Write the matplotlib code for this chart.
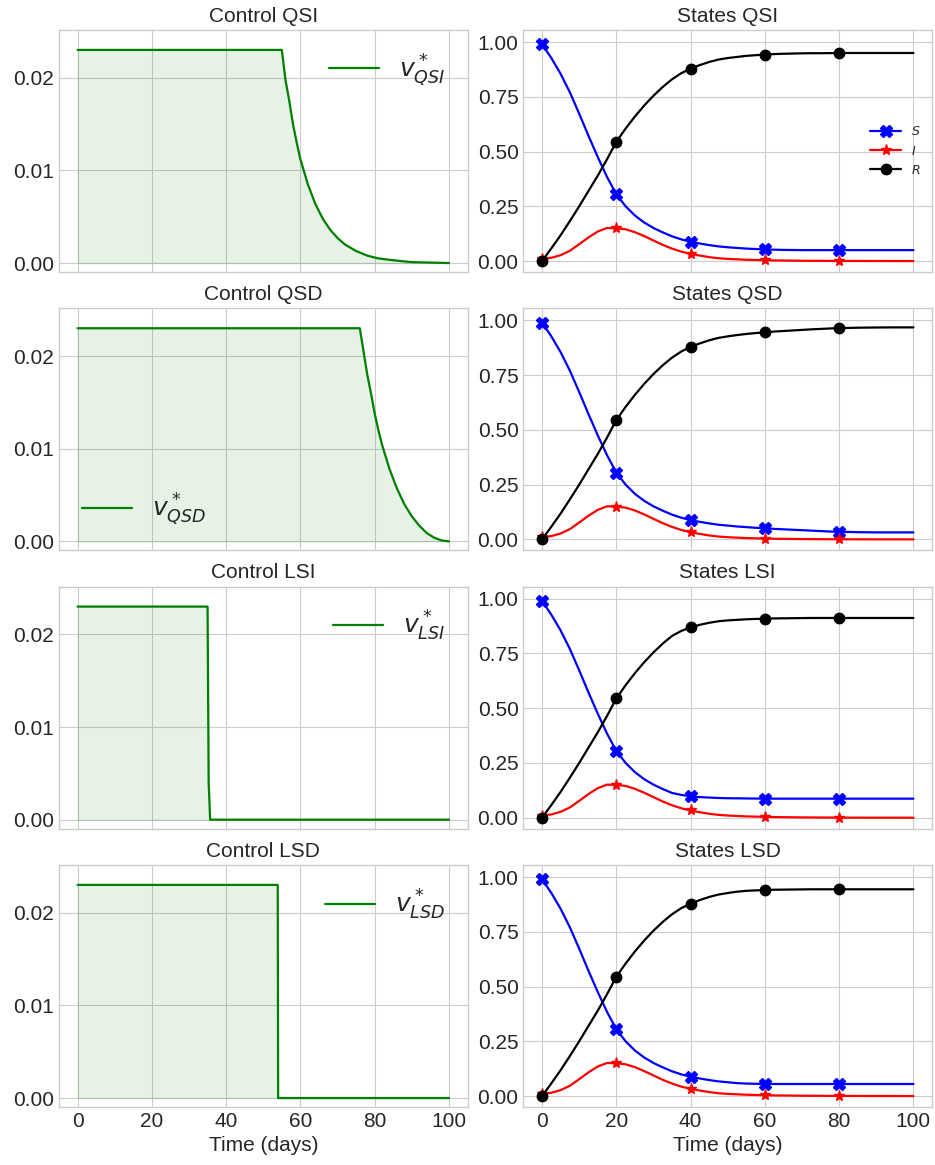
import matplotlib
matplotlib.use("Agg")
import matplotlib.pyplot as plt
import numpy as np

plt.style.use('seaborn-v0_8-whitegrid')
plt.rcParams['font.family'] = ['Liberation Sans', 'DejaVu Sans']
plt.rcParams['font.size'] = 15

# ---------------- data ----------------
t_states = [0, 2.5, 5, 7.5, 10, 12.5, 15, 17.5, 20, 22.5, 25, 27.5, 30, 32.5, 35,
            37.5, 40, 42.5, 45, 47.5, 50, 52.5, 55, 57.5, 60, 62.5, 65, 67.5, 70,
            72.5, 75, 77.5, 80, 82.5, 85, 87.5, 90, 92.5, 95, 97.5, 100]

# shared early part (t = 0 .. 35)
S_early = [0.990, 0.927, 0.855, 0.770, 0.673, 0.572, 0.475, 0.384, 0.305, 0.250,
           0.208, 0.176, 0.151, 0.131, 0.113]
R_early = [0.000, 0.058, 0.118, 0.183, 0.250, 0.320, 0.390, 0.465, 0.545, 0.605,
           0.660, 0.710, 0.755, 0.795, 0.830]
I_all = [0.010, 0.015, 0.027, 0.047, 0.077, 0.108, 0.135, 0.151, 0.150, 0.145,
         0.132, 0.114, 0.094, 0.074, 0.057, 0.043, 0.033, 0.025, 0.018, 0.013,
         0.010, 0.008, 0.006, 0.005, 0.004, 0.003, 0.0025, 0.002, 0.0015, 0.0012,
         0.001, 0.0008, 0.0006, 0.0005, 0.0004, 0.0003, 0.0003, 0.0002, 0.0002,
         0.0001, 0.0001]

# late parts (t = 37.5 .. 100)
S_qsi_late = [0.099, 0.088, 0.080, 0.073, 0.067, 0.063, 0.060, 0.057, 0.055, 0.053,
              0.052, 0.051, 0.0505, 0.050, 0.050, 0.050, 0.050, 0.050, 0.050, 0.050,
              0.050, 0.050, 0.050, 0.050, 0.050, 0.050]
R_qsi_late = [0.858, 0.879, 0.895, 0.909, 0.920, 0.927, 0.932, 0.937, 0.940, 0.943,
              0.945, 0.9465, 0.9475, 0.9485, 0.949, 0.949, 0.9495, 0.9495, 0.950,
              0.950, 0.950, 0.950, 0.950, 0.950, 0.950, 0.950]
S_qsd_late = [0.099, 0.088, 0.080, 0.073, 0.067, 0.063, 0.059, 0.056, 0.053, 0.051,
              0.048, 0.046, 0.044, 0.042, 0.040, 0.038, 0.036, 0.034, 0.034, 0.033,
              0.0325, 0.032, 0.032, 0.032, 0.032, 0.032]
R_qsd_late = [0.858, 0.879, 0.895, 0.909, 0.920, 0.927, 0.933, 0.938, 0.942, 0.945,
              0.949, 0.9515, 0.954, 0.9565, 0.959, 0.961, 0.963, 0.965, 0.9655,
              0.9665, 0.967, 0.9675, 0.9678, 0.968, 0.968, 0.968]
S_lsi_late = [0.104, 0.098, 0.094, 0.092, 0.090, 0.089, 0.0885, 0.088, 0.0875,
              0.087, 0.087, 0.087, 0.087, 0.087, 0.087, 0.087, 0.087, 0.087, 0.087,
              0.087, 0.087, 0.087, 0.087, 0.087, 0.087, 0.087]
R_lsi_late = [0.853, 0.869, 0.881, 0.890, 0.897, 0.901, 0.9035, 0.906, 0.9075,
              0.909, 0.910, 0.9105, 0.911, 0.9115, 0.912, 0.912, 0.912, 0.912,
              0.912, 0.912, 0.912, 0.912, 0.912, 0.912, 0.912, 0.912]
S_lsd_late = [0.099, 0.088, 0.080, 0.073, 0.067, 0.063, 0.059, 0.057, 0.056,
              0.0555, 0.055, 0.055, 0.055, 0.055, 0.055, 0.055, 0.055, 0.055, 0.055,
              0.055, 0.055, 0.055, 0.055, 0.055, 0.055, 0.055]
R_lsd_late = [0.858, 0.879, 0.895, 0.909, 0.920, 0.927, 0.933, 0.937, 0.939,
              0.9405, 0.942, 0.9425, 0.943, 0.9435, 0.944, 0.944, 0.944, 0.944,
              0.944, 0.944, 0.944, 0.944, 0.944, 0.944, 0.944, 0.944]

# controls
t_qsi = [0, 55, 56, 57, 58, 59, 60, 62, 64, 66, 68, 70, 72, 75, 78, 81, 85, 90, 95, 100]
v_qsi = [0.023, 0.023, 0.0197, 0.0175, 0.0150, 0.0130, 0.0112, 0.0085, 0.0064,
         0.0048, 0.0036, 0.0027, 0.0020, 0.0013, 0.0008, 0.0005, 0.0003, 0.0001,
         0.00005, 0.0]
t_qsd = [0, 76, 77, 78, 79, 80, 81, 82, 84, 86, 88, 90, 92, 94, 96, 98, 100]
v_qsd = [0.023, 0.023, 0.0205, 0.018, 0.016, 0.0138, 0.0120, 0.0104, 0.0078,
         0.0057, 0.0040, 0.0027, 0.0017, 0.0009, 0.0004, 0.0001, 0.0]
t_lsi = [0, 35.0, 35.3, 35.7, 100]
v_lsi = [0.023, 0.023, 0.004, 0.0, 0.0]
t_lsd = [0, 53.9, 54.0, 100]
v_lsd = [0.023, 0.023, 0.0, 0.0]

strategies = ['QSI', 'QSD', 'LSI', 'LSD']
controls = [(t_qsi, v_qsi), (t_qsd, v_qsd), (t_lsi, v_lsi), (t_lsd, v_lsd)]
states = [(S_early + S_qsi_late, R_early + R_qsi_late),
          (S_early + S_qsd_late, R_early + R_qsd_late),
          (S_early + S_lsi_late, R_early + R_lsi_late),
          (S_early + S_lsd_late, R_early + R_lsd_late)]
ctrl_legend_loc = ['upper right', 'lower left', 'upper right', 'upper right']
marker_days = [0, 20, 40, 60, 80]

# ---------------- figure ----------------
fig, axes = plt.subplots(4, 2, figsize=(9.35, 11.65), dpi=100, sharex='col')
fig.subplots_adjust(left=59/935, right=932/935, top=1-30/1165, bottom=1-1107/1165,
                    wspace=0.137, hspace=0.15)

mk = [t_states.index(d) for d in marker_days]

for i, name in enumerate(strategies):
    axc = axes[i, 0]
    tc, vc = controls[i]
    axc.plot(tc, vc, color='green', lw=1.6, label=r'$v^*_{%s}$' % name)
    axc.fill_between(tc, vc, 0, color='green', alpha=0.1)
    axc.set_title('Control ' + name, fontsize=15)
    axc.set_yticks([0.0, 0.01, 0.02])
    axc.set_ylim(-0.00097, 0.02515)
    axc.yaxis.set_major_formatter(matplotlib.ticker.FormatStrFormatter('%.2f'))
    axc.legend(loc=ctrl_legend_loc[i], fontsize=18, frameon=False)
    axc.tick_params(labelsize=15)

    axs = axes[i, 1]
    S, R = states[i]
    axs.plot(t_states, S, color='blue', lw=1.6, marker='X', markersize=8,
             markevery=mk, label=r'$S$')
    axs.plot(t_states, I_all, color='red', lw=1.6, marker='*', markersize=8,
             markevery=mk, label=r'$I$')
    axs.plot(t_states, R, color='black', lw=1.6, marker='o', markersize=7.5,
             markevery=mk, label=r'$R$')
    axs.set_title('States ' + name, fontsize=15)
    axs.set_yticks([0.0, 0.25, 0.5, 0.75, 1.0])
    axs.set_ylim(-0.05, 1.055)
    axs.yaxis.set_major_formatter(matplotlib.ticker.FormatStrFormatter('%.2f'))
    axs.tick_params(labelsize=15)
    if i == 0:
        axs.legend(loc='center right', fontsize=9, frameon=False, handlelength=2.5)

for ax in axes[3]:
    ax.set_xlabel('Time (days)', fontsize=15)
    ax.set_xticks([0, 20, 40, 60, 80, 100])

fig.savefig('out.png', dpi=100)
